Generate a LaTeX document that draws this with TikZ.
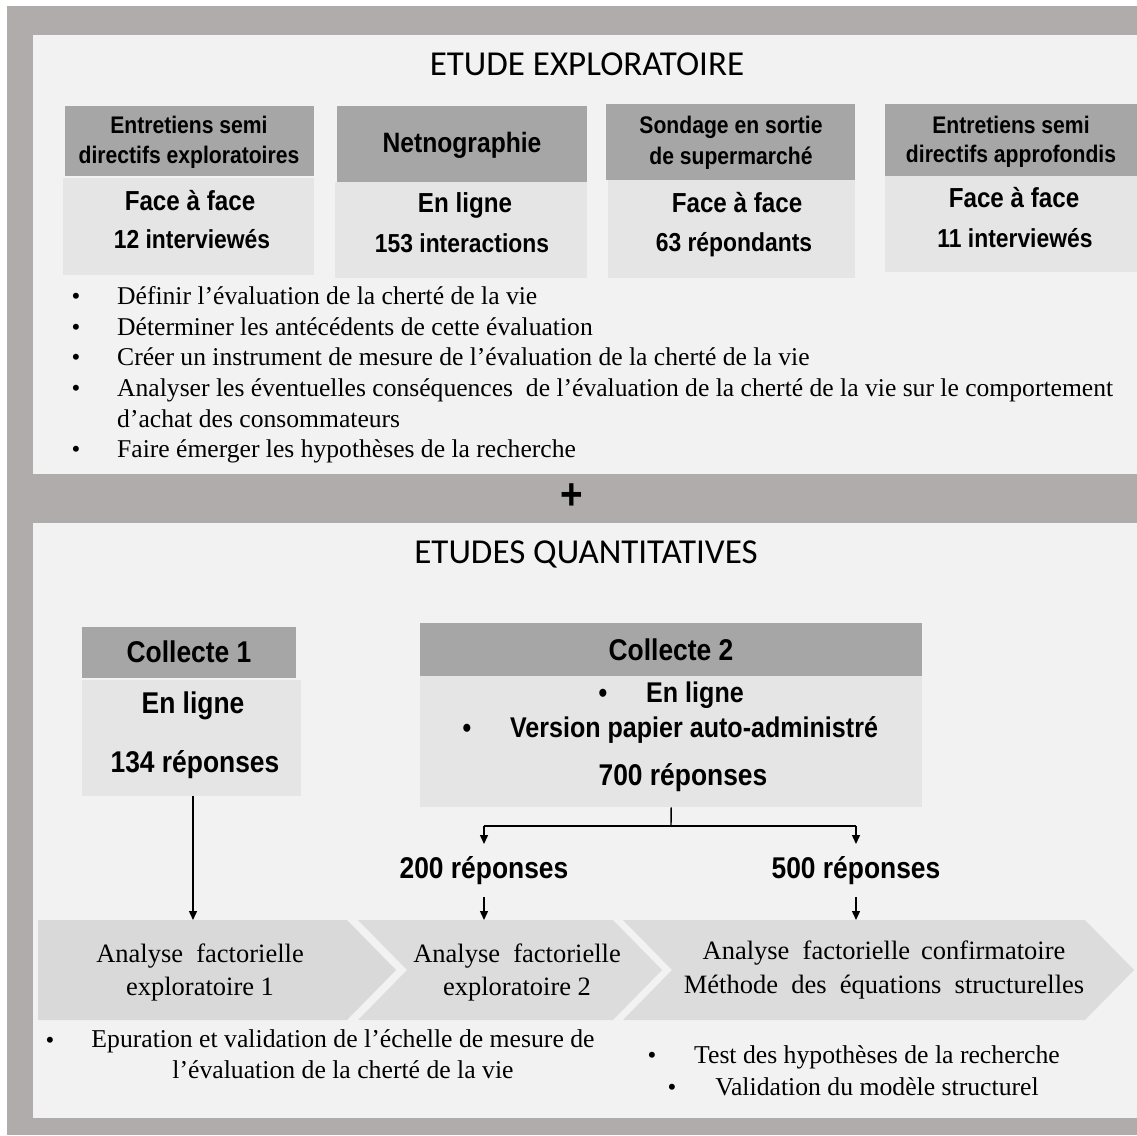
\documentclass[tikz,border=0pt]{standalone}
\usepackage{fontspec}
\setmainfont{Liberation Serif}
\newfontfamily\hd[FakeStretch=0.88]{Liberation Sans}
\newfontfamily\ttl{Carlito}
\usetikzlibrary{arrows.meta}
\definecolor{framegray}{HTML}{AFACAB}
\definecolor{panel}{HTML}{F2F2F2}
\definecolor{hdrgray}{HTML}{A6A6A6}
\definecolor{bodygray}{HTML}{E5E5E5}
\definecolor{chevgray}{HTML}{D9D9D9}
\definecolor{chevgrayb}{HTML}{DCDCDC}
\tikzset{
  hdrbox/.style={fill=hdrgray, draw=none, inner sep=0pt, anchor=north west},
  bodybox/.style={fill=bodygray, draw=none, inner sep=0pt, anchor=north west},
  hdtxt/.style={inner sep=0pt, anchor=base, font=\hd\bfseries\fontsize{24}{29}\selectfont},
  bigtxt/.style={inner sep=0pt, anchor=base, font=\hd\bfseries\fontsize{27.5}{32}\selectfont},
  midtxt/.style={inner sep=0pt, anchor=base, font=\hd\bfseries\fontsize{26}{31}\selectfont},
  coltxt/.style={inner sep=0pt, anchor=base, font=\hd\bfseries\fontsize{30}{36}\selectfont},
  coltxtb/.style={inner sep=0pt, anchor=base, font=\hd\bfseries\fontsize{28.5}{34}\selectfont},
  titletxt/.style={inner sep=0pt, anchor=base, font=\ttl\fontsize{35}{40}\selectfont},
  bultxt/.style={inner sep=0pt, anchor=base west, font=\fontsize{25.6}{30}\selectfont},
  bulmark/.style={inner sep=0pt, anchor=base, font=\fontsize{25}{30}\selectfont},
  chevtxt/.style={inner sep=0pt, anchor=base, font=\fontsize{26.5}{33.5}\selectfont},
  bottxt/.style={inner sep=0pt, anchor=base, align=center, font=\fontsize{25.7}{31}\selectfont},
  arr/.style={line width=1.4pt, -{Triangle[length=9pt,width=8pt]}},
  plainline/.style={line width=1.4pt}
}
\begin{document}
\begin{tikzpicture}[x=1pt,y=-1pt]
\useasboundingbox (0,0) rectangle (1137,1135);
\fill[white] (0,0) rectangle (1137,1135);
\fill[framegray] (7,6) rectangle (1137,1135);
\fill[panel] (33,35) rectangle (1137,474);
\fill[panel] (33,523) rectangle (1137,1118);

% titles
\node[titletxt] (t1) at (587,75) {ETUDE EXPLORATOIRE};
\node[titletxt] (t2) at (586,563) {ETUDES QUANTITATIVES};
\node[inner sep=0pt, font=\hd\bfseries\fontsize{44}{44}\selectfont] (plus) at (572,497) {+};

% top boxes
\node[hdrbox, minimum width=249, minimum height=70] (h1) at (65,106) {};
\node[bodybox, minimum width=251, minimum height=97] (b1) at (63,178) {};
\node[hdtxt] (h1a) at (189,133) {Entretiens semi};
\node[hdtxt] (h1b) at (189,163) {directifs exploratoires};
\node[bigtxt] (b1a) at (190,210) {Face à face};
\node[midtxt] (b1b) at (192,248) {12 interviewés};

\node[hdrbox, minimum width=250, minimum height=76] (h2) at (337,106) {};
\node[bodybox, minimum width=252, minimum height=96] (b2) at (335,182) {};
\node[hdtxt, font=\hd\bfseries\fontsize{28}{32}\selectfont] (h2a) at (462,152) {Netnographie};
\node[bigtxt] (b2a) at (465,212) {En ligne};
\node[midtxt] (b2b) at (462,252) {153 interactions};

\node[hdrbox, minimum width=249, minimum height=76] (h3) at (606,104) {};
\node[bodybox, minimum width=247, minimum height=98] (b3) at (608,180) {};
\node[hdtxt] (h3a) at (731,133) {Sondage en sortie};
\node[hdtxt] (h3b) at (731,164) {de supermarché};
\node[bigtxt] (b3a) at (737,212) {Face à face};
\node[midtxt] (b3b) at (734,251) {63 répondants};

\node[hdrbox, minimum width=252, minimum height=72] (h4) at (885,104) {};
\node[bodybox, minimum width=252, minimum height=96] (b4) at (885,176) {};
\node[hdtxt] (h4a) at (1011,133) {Entretiens semi};
\node[hdtxt] (h4b) at (1011,162) {directifs approfondis};
\node[bigtxt] (b4a) at (1014,207) {Face à face};
\node[midtxt] (b4b) at (1015,247) {11 interviewés};

% top bullets
\foreach \yy/\nm in {304/m1,335/m2,365/m3,396/m4,457/m6}{
  \node[bulmark] (\nm) at (76,\yy) {•};
}
\node[bultxt] (l1) at (117,304) {Définir l’évaluation de la cherté de la vie};
\node[bultxt] (l2) at (117,335) {Déterminer les antécédents de cette évaluation};
\node[bultxt] (l3) at (117,365) {Créer un instrument de mesure de l’évaluation de la cherté de la vie};
\node[bultxt] (l4) at (117,396) {Analyser les éventuelles conséquences \ de l’évaluation de la cherté de la vie sur le comportement};
\node[bultxt] (l5) at (117,427) {d’achat des consommateurs};
\node[bultxt] (l6) at (117,457) {Faire émerger les hypothèses de la recherche};

% Collecte 1
\node[hdrbox, minimum width=214, minimum height=51] (c1h) at (82,627) {};
\node[bodybox, minimum width=219, minimum height=116] (c1b) at (82,680) {};
\node[coltxt] (c1a) at (189,662) {Collecte 1};
\node[coltxt] (c1c) at (193,713) {En ligne};
\node[coltxt] (c1d) at (195,772) {134 réponses};

% Collecte 2
\node[hdrbox, minimum width=502, minimum height=53] (c2h) at (420,623) {};
\node[bodybox, minimum width=502, minimum height=131] (c2b) at (420,676) {};
\node[coltxt] (c2a) at (671,660) {Collecte 2};
\node[bulmark, font=\hd\bfseries\fontsize{28}{34}\selectfont] (c2m1) at (603,702) {•};
\node[coltxtb] (c2c) at (695,702) {En ligne};
\node[bulmark, font=\hd\bfseries\fontsize{28}{34}\selectfont] (c2m2) at (467,737) {•};
\node[coltxtb] (c2d) at (694,737) {Version papier auto-administré};
\node[coltxt] (c2e) at (683,785) {700 réponses};

% split labels
\node[coltxt] (r200) at (484,878) {200 réponses};
\node[coltxt] (r500) at (856,878) {500 réponses};

% chevrons
\fill[chevgray] (38,920) -- (347,920) -- (396,970) -- (347,1020) -- (38,1020) -- cycle;
\fill[chevgrayb] (358,920) -- (613,920) -- (662,970) -- (613,1020) -- (358,1020) -- (407,970) -- cycle;
\fill[chevgrayb] (623,920) -- (1085,920) -- (1134,970) -- (1085,1020) -- (623,1020) -- (672,970) -- cycle;
\coordinate (k1) at (193,920);
\coordinate (k2) at (484,920);
\coordinate (k3) at (856,920);
\coordinate (k2a) at (484,897);
\coordinate (k3a) at (856,897);
\node[chevtxt] (e1a) at (200,962) {Analyse \ factorielle};
\node[chevtxt] (e1b) at (200,995) {exploratoire 1};
\node[chevtxt] (e2a) at (517,962) {Analyse \ factorielle};
\node[chevtxt] (e2b) at (517,995) {exploratoire 2};
\node[chevtxt] (e3a) at (884,959) {Analyse \ factorielle \,confirmatoire};
\node[chevtxt] (e3b) at (884,993) {Méthode \ des \ équations \ structurelles};

% connectors
\draw[arr] (c1b.south -| k1) -- (k1);
\coordinate (sp) at (671,826);
\draw[plainline] (c2b.south) -- (sp);
\coordinate (sa) at (484,826);
\coordinate (sb) at (856,826);
\draw[plainline] (sa) -- (sb);
\coordinate (ta) at (484,844);
\coordinate (tb) at (856,844);
\draw[arr] (sa) -- (ta);
\draw[arr] (sb) -- (tb);
\draw[arr] (k2a) -- (k2);
\draw[arr] (k3a) -- (k3);

% bottom bullets
\node[bulmark] (bm1) at (50,1048) {•};
\node[bottxt, anchor=north] (bt1) at (343,1029) {Epuration et validation de l’échelle de mesure de\\l’évaluation de la cherté de la vie};
\node[bulmark] (bm2) at (652,1063) {•};
\node[bulmark] (bm3) at (672,1095) {•};
\node[bottxt, anchor=base] (bt2) at (877,1063) {Test des hypothèses de la recherche};
\node[bottxt, anchor=base] (bt3) at (877,1095) {Validation du modèle structurel};
\end{tikzpicture}
\end{document}
